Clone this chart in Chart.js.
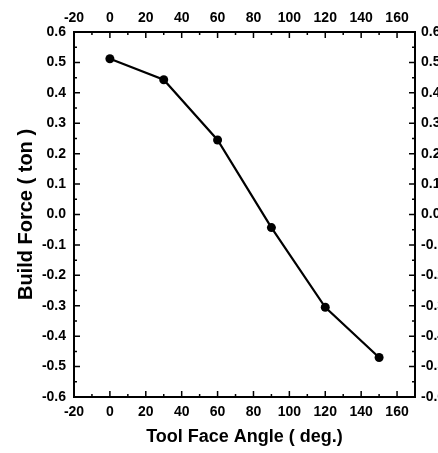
<!DOCTYPE html>
<html>
<head>
    <meta charset="utf-8" />
    <title>Build Force vs Tool Face Angle</title>
    <script src="https://cdn.jsdelivr.net/npm/chart.js"></script>
    <style>
        html, body { margin: 0; padding: 0; background: #fff; overflow: hidden; }
        #wrap { width: 460px; height: 453px; }
    </style>
</head>
<body>
    <div id="wrap">
        <canvas id="myChart"></canvas>
    </div>

    <script>
        // data
        const toolFaceAngle = [0, 30, 60, 90, 120, 150];
        const buildForce = [0.512, 0.443, 0.245, -0.043, -0.305, -0.47];

        // tick labels
        const xTickValues = [-20, 0, 20, 40, 60, 80, 100, 120, 140, 160];
        const yTickValues = [-0.6, -0.5, -0.4, -0.3, -0.2, -0.1, 0, 0.1, 0.2, 0.3, 0.4, 0.5, 0.6];

        const tickFont = { family: 'Liberation Sans, Arial, sans-serif', size: 14, weight: 'bold' };
        const xTitleFont = { family: 'Liberation Sans, Arial, sans-serif', size: 18, weight: 'bold' };
        const yTitleFont = { family: 'Liberation Sans, Arial, sans-serif', size: 20, weight: 'bold' };

        function fixTicks(values) {
            return function (scale) {
                scale.ticks = values.map(v => ({ value: v }));
            };
        }

        function fmtY(v) {
            return Number(v).toFixed(1);
        }

        // inward tick marks, major and minor, on all four sides
        const inwardTicks = {
            id: 'inwardTicks',
            afterDraw(chart) {
                const ctx = chart.ctx;
                const a = chart.chartArea;
                const sx = chart.scales.x, sy = chart.scales.y;
                ctx.save();
                ctx.strokeStyle = '#000';
                ctx.lineWidth = 1.5;
                ctx.beginPath();
                for (let v = -20; v <= 170; v += 10) {
                    const px = sx.getPixelForValue(v);
                    const len = (v % 20 === 0) ? 6 : 3;
                    ctx.moveTo(px, a.bottom); ctx.lineTo(px, a.bottom - len);
                    ctx.moveTo(px, a.top); ctx.lineTo(px, a.top + len);
                }
                for (let i = -12; i <= 12; i++) {
                    const v = i * 0.05;
                    const py = sy.getPixelForValue(v);
                    const len = (i % 2 === 0) ? 6 : 3;
                    ctx.moveTo(a.left, py); ctx.lineTo(a.left + len, py);
                    ctx.moveTo(a.right, py); ctx.lineTo(a.right - len, py);
                }
                ctx.stroke();
                ctx.restore();
            }
        };

        const ctx = document.getElementById('myChart').getContext('2d');
        new Chart(ctx, {
            type: 'line',
            data: {
                datasets: [{
                    data: toolFaceAngle.map((x, i) => ({ x: x, y: buildForce[i] })),
                    borderColor: '#000',
                    backgroundColor: '#000',
                    borderWidth: 2.2,
                    pointRadius: 4.5,
                    pointBackgroundColor: '#000',
                    pointBorderWidth: 0,
                    tension: 0
                }]
            },
            options: {
                responsive: true,
                maintainAspectRatio: false,
                animation: false,
                events: [],
                plugins: { legend: { display: false }, tooltip: { enabled: false } },
                layout: { padding: 0 },
                scales: {
                    x: {
                        type: 'linear', position: 'bottom', min: -20, max: 170,
                        afterBuildTicks: fixTicks(xTickValues),
                        afterFit(s) { s.height = 56; },
                        grid: { display: true, drawOnChartArea: false, drawTicks: false },
                        border: { display: true, color: '#000', width: 2 },
                        ticks: { color: '#000', font: tickFont, padding: 7, maxRotation: 0 },
                        title: { display: true, text: 'Tool Face Angle ( deg.)', color: '#000', font: xTitleFont, padding: { top: 0, bottom: 5 } }
                    },
                    x2: {
                        type: 'linear', position: 'top', min: -20, max: 170,
                        afterBuildTicks: fixTicks(xTickValues),
                        afterFit(s) { s.height = 32; },
                        grid: { display: true, drawOnChartArea: false, drawTicks: false },
                        border: { display: true, color: '#000', width: 2 },
                        ticks: { color: '#000', font: tickFont, padding: 5, maxRotation: 0 }
                    },
                    y: {
                        type: 'linear', position: 'left', min: -0.6, max: 0.6,
                        afterBuildTicks: fixTicks(yTickValues),
                        afterFit(s) { s.width = 74; },
                        grid: { display: true, drawOnChartArea: false, drawTicks: false },
                        border: { display: true, color: '#000', width: 2 },
                        ticks: { color: '#000', font: tickFont, padding: 8, callback: fmtY },
                        title: { display: true, text: 'Build Force ( ton )', color: '#000', font: yTitleFont, padding: { top: 14, bottom: 0 } }
                    },
                    y2: {
                        type: 'linear', position: 'right', min: -0.6, max: 0.6,
                        afterBuildTicks: fixTicks(yTickValues),
                        afterFit(s) { s.width = 45; },
                        grid: { display: true, drawOnChartArea: false, drawTicks: false },
                        border: { display: true, color: '#000', width: 2 },
                        ticks: { color: '#000', font: tickFont, padding: 6, callback: fmtY }
                    }
                }
            },
            plugins: [inwardTicks]
        });
    </script>
</body>
</html>
